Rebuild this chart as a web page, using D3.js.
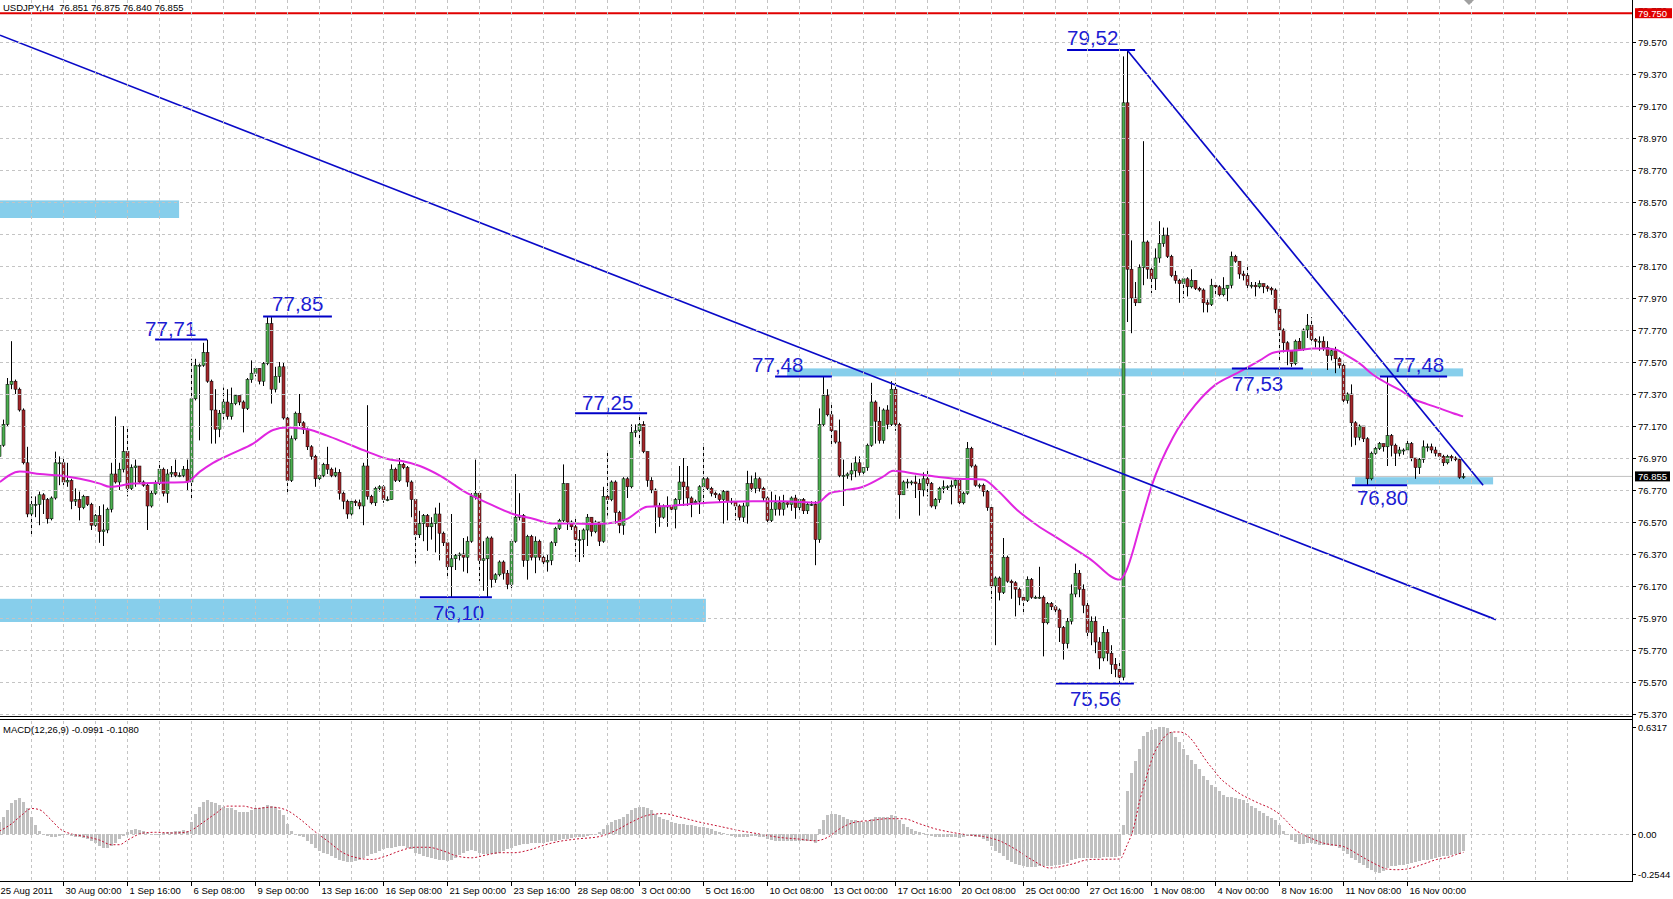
<!DOCTYPE html>
<html><head><meta charset="utf-8">
<script src="https://cdn.jsdelivr.net/npm/d3@7"></script>
<style>
html,body{margin:0;padding:0;background:#fff;overflow:hidden;}
svg{display:block;}
text{font-family:"Liberation Sans",Arial,sans-serif;}
</style></head><body>
<svg id="c" width="1673" height="899"></svg>
<script>
// ---------------- DATA ----------------
const symbolTitle = "USDJPY,H4  76.851 76.875 76.840 76.855";
const macdTitle = "MACD(12,26,9) -0.0991 -0.1080";
const firstOpen = 76.98;
const closes = [
77.05,77.18,77.43,77.45,77.40,77.27,76.94,76.62,76.68,76.68,
76.74,76.71,76.59,76.72,76.94,76.94,76.82,76.83,76.70,76.71,
76.66,76.73,76.68,76.55,76.61,76.51,76.52,76.65,76.87,76.82,
76.90,77.01,76.78,76.91,76.92,76.82,76.80,76.67,76.75,76.81,
76.90,76.75,76.87,76.88,76.86,76.86,76.90,76.82,77.34,77.55,
77.55,77.63,77.45,77.27,77.15,77.25,77.32,77.23,77.31,77.36,
77.32,77.28,77.46,77.50,77.53,77.45,77.56,77.81,77.40,77.48,
77.54,77.22,76.83,77.09,77.25,77.19,77.15,77.04,76.98,76.84,
76.86,76.93,76.90,76.86,76.88,76.75,76.70,76.62,76.70,76.69,
76.67,76.92,76.73,76.69,76.78,76.79,76.71,76.71,76.90,76.83,
76.93,76.91,76.82,76.71,76.49,76.56,76.61,76.54,76.56,76.62,
76.50,76.44,76.29,76.34,76.36,76.37,76.35,76.45,76.73,76.75,
76.33,76.34,76.47,76.21,76.24,76.32,76.25,76.18,76.45,76.60,
76.61,76.33,76.48,76.35,76.45,76.35,76.32,76.33,76.44,76.53,
76.58,76.81,76.57,76.54,76.46,76.46,76.52,76.60,76.51,76.57,
76.45,76.73,76.71,76.82,76.63,76.55,76.84,76.79,77.13,77.14,
77.18,77.01,76.83,76.77,76.67,76.60,76.67,76.67,76.65,76.71,
76.82,76.79,76.72,76.69,76.70,76.79,76.84,76.78,76.75,76.74,
76.71,76.76,76.70,76.70,76.67,76.60,76.67,76.81,76.78,76.84,
76.78,76.72,76.58,76.65,76.69,76.65,76.69,76.68,76.72,76.66,
76.71,76.64,76.68,76.68,76.46,77.18,77.36,77.24,77.14,77.07,
76.86,76.86,76.87,76.89,76.94,76.88,76.91,77.05,77.32,77.20,
77.08,77.27,77.18,77.40,77.18,76.74,76.82,76.82,76.82,76.81,
76.77,76.84,76.81,76.67,76.71,76.78,76.79,76.79,76.80,76.83,
76.69,76.75,77.03,76.92,76.80,76.80,76.76,76.66,76.17,76.22,
76.13,76.35,76.20,76.19,76.15,76.10,76.08,76.21,76.10,76.10,
76.10,75.94,76.06,76.04,76.02,75.91,75.81,75.95,76.12,76.25,
76.15,76.05,75.88,75.95,75.82,75.72,75.88,75.75,75.68,75.65,
75.60,79.19,78.15,77.97,77.94,78.16,78.32,78.15,78.09,78.22,
78.31,78.36,78.23,78.11,78.08,78.06,78.09,78.04,78.08,78.03,
78.02,77.94,77.93,78.05,78.04,77.99,78.03,78.05,78.23,78.20,
78.12,78.11,78.05,78.05,78.04,78.06,78.04,78.03,78.02,77.90,
77.77,77.69,77.64,77.56,77.70,77.65,77.77,77.80,77.71,77.70,
77.70,77.66,77.61,77.64,77.59,77.55,77.33,77.37,77.19,77.10,
77.17,77.09,76.84,77.00,77.03,77.06,77.04,77.11,77.05,77.00,
77.02,77.02,77.06,76.97,76.91,76.96,77.04,77.04,77.02,77.00,
76.98,76.94,76.98,76.97,76.96,76.85,76.855];
const highs = [
77.08,77.21,77.47,77.70,77.46,77.41,77.28,77.04,76.73,76.73,
76.76,76.75,76.72,76.73,77.01,76.98,76.97,76.94,76.84,76.78,
76.76,76.74,76.73,76.69,76.62,76.67,76.68,76.66,76.94,77.23,
76.94,77.17,77.17,76.93,76.96,76.92,76.83,76.81,76.77,76.83,
76.95,76.91,76.90,76.92,76.96,76.88,76.92,76.96,77.59,77.59,
77.56,77.69,77.71,77.46,77.40,77.27,77.41,77.40,77.41,77.37,
77.36,77.33,77.47,77.58,77.54,77.53,77.57,77.85,77.85,77.54,
77.57,77.57,77.23,77.11,77.26,77.37,77.20,77.16,77.05,76.99,
76.87,76.94,77.04,76.91,76.91,76.90,76.76,76.71,76.71,76.71,
76.71,76.94,77.30,76.74,76.79,76.80,76.80,76.73,76.93,76.91,
76.97,76.94,76.92,76.83,76.72,76.64,76.62,76.62,76.60,76.66,
76.69,76.51,76.46,76.62,76.37,76.38,76.47,76.48,76.75,76.96,
76.76,76.45,76.48,76.48,76.25,76.33,76.33,76.27,76.46,76.87,
76.75,76.62,76.49,76.49,76.48,76.46,76.36,76.37,76.45,76.54,
76.59,76.93,76.81,76.58,76.60,76.52,76.53,76.62,76.60,76.58,
76.56,76.79,77.01,76.83,76.83,76.64,76.85,76.85,77.18,77.18,
77.25,77.20,77.01,76.85,76.78,76.69,76.68,76.73,76.68,76.72,
76.92,76.97,76.92,76.73,76.71,76.80,77.06,76.85,76.79,76.76,
76.75,76.77,76.77,76.72,76.72,76.68,76.69,76.89,76.86,76.88,
76.85,76.79,76.73,76.76,76.74,76.73,76.74,76.70,76.73,76.74,
76.72,76.72,76.69,76.70,76.70,77.28,77.48,77.40,77.31,77.14,
77.21,76.96,76.88,76.94,76.98,76.98,76.91,77.06,77.44,77.33,
77.29,77.28,77.30,77.45,77.44,77.19,76.83,76.84,76.83,76.86,
76.84,76.88,76.89,76.82,76.72,76.79,76.83,76.80,76.83,76.84,
76.84,76.76,77.07,77.04,76.93,76.81,76.81,76.77,76.67,76.23,
76.23,76.47,76.36,76.21,76.20,76.16,76.12,76.23,76.22,76.11,
76.29,76.11,76.07,76.07,76.05,76.03,75.92,75.97,76.18,76.31,
76.27,76.18,76.07,75.98,75.98,75.85,75.92,75.90,75.80,75.72,
75.70,79.48,79.52,78.33,78.07,78.18,78.95,78.33,78.16,78.28,
78.45,78.41,78.41,78.24,78.14,78.09,78.10,78.10,78.15,78.08,
78.04,78.03,77.96,78.09,78.06,78.05,78.10,78.05,78.26,78.24,
78.18,78.14,78.18,78.07,78.07,78.08,78.05,78.05,78.04,78.03,
77.92,77.78,77.70,77.63,77.71,77.72,77.78,77.87,77.85,77.72,
77.73,77.73,77.70,77.655,77.665,77.60,77.56,77.38,77.43,77.20,
77.18,77.17,77.10,77.01,77.05,77.07,77.06,77.48,77.12,77.06,
77.04,77.03,77.08,77.07,76.97,76.97,77.08,77.06,77.06,77.04,
77.01,76.99,76.99,76.99,76.98,76.97,76.875];
const lows = [
76.96,77.04,77.17,77.40,77.37,77.26,76.93,76.60,76.48,76.60,
76.55,76.62,76.56,76.58,76.71,76.80,76.80,76.79,76.65,76.67,
76.58,76.65,76.67,76.52,76.54,76.44,76.42,76.50,76.63,76.81,
76.77,76.88,76.73,76.77,76.79,76.81,76.79,76.52,76.66,76.74,
76.80,76.73,76.69,76.85,76.85,76.85,76.85,76.77,76.71,77.33,
77.08,77.54,77.44,77.06,77.06,77.10,77.21,77.21,77.21,77.30,
77.30,77.13,77.27,77.44,77.48,77.43,77.42,77.55,77.31,77.38,
77.44,77.21,76.74,76.82,77.08,77.17,77.12,77.02,76.96,76.79,
76.83,76.85,76.87,76.85,76.85,76.71,76.65,76.59,76.61,76.67,
76.65,76.55,76.71,76.68,76.67,76.76,76.69,76.70,76.71,76.82,
76.82,76.90,76.79,76.60,76.31,76.47,76.45,76.39,76.46,76.38,
76.33,76.42,76.23,76.10,76.27,76.33,76.26,76.25,76.44,76.71,
76.20,76.14,76.10,76.16,76.19,76.23,76.21,76.15,76.15,76.44,
76.58,76.29,76.21,76.33,76.25,76.33,76.30,76.26,76.30,76.42,
76.52,76.57,76.52,76.52,76.35,76.32,76.35,76.42,76.48,76.50,
76.42,76.44,76.61,76.70,76.56,76.50,76.49,76.72,76.78,77.10,
77.05,77.00,76.79,76.75,76.50,76.54,76.59,76.54,76.63,76.53,
76.67,76.67,76.67,76.60,76.68,76.62,76.69,76.77,76.73,76.72,
76.69,76.56,76.58,76.68,76.58,76.58,76.57,76.56,76.76,76.75,
76.76,76.70,76.56,76.57,76.61,76.61,76.61,76.66,76.64,76.59,
76.64,76.62,76.62,76.67,76.30,76.44,77.17,77.23,77.04,77.06,
76.85,76.67,76.84,76.83,76.85,76.86,76.86,76.89,77.04,77.06,
77.06,77.06,77.15,77.17,77.14,76.59,76.74,76.78,76.80,76.72,
76.61,76.73,76.73,76.66,76.65,76.69,76.75,76.77,76.68,76.78,
76.68,76.68,76.74,76.91,76.79,76.78,76.73,76.64,76.09,75.80,
76.08,76.12,76.19,76.09,75.98,76.05,76.00,76.07,76.09,76.09,
76.09,75.73,75.93,76.02,76.00,75.82,75.71,75.78,75.93,76.10,
76.10,76.00,75.85,75.80,75.75,75.65,75.70,75.70,75.62,75.60,
75.56,75.58,77.82,77.75,77.92,77.94,78.05,78.09,78.00,78.02,
78.19,78.29,78.22,78.10,78.06,77.94,77.97,77.98,78.03,78.02,
78.01,77.88,77.88,77.92,77.98,77.98,77.98,77.95,78.03,78.19,
78.09,78.08,78.03,78.03,77.98,78.03,78.00,78.01,77.99,77.875,
77.58,77.63,77.55,77.54,77.55,77.64,77.64,77.72,77.70,77.66,
77.64,77.64,77.52,77.58,77.50,77.53,77.31,77.31,77.04,77.05,
77.08,77.07,76.80,76.83,76.99,77.02,77.01,76.92,76.98,76.92,
76.98,76.99,77.00,76.95,76.84,76.87,76.94,77.01,77.00,76.98,
76.96,76.92,76.93,76.95,76.95,76.84,76.84];

// moving average (pink), read at sample bars
const maBars = [0.1,5.1,10.1,15.1,20.1,25.1,27.6,33.4,40.1,46.9,50.1,53.4,58.4,63.4,68.4,71.9,76.9,81.9,86.9,91.9,97.6,100.9,105.1,110.1,116.9,121.9,128.4,133.4,138.4,143.4,148.4,151.9,156.9,161.9,166.9,171.9,176.9,181.9,188.4,195.9,204.4,207.6,210.9,215.9,220.9,223.4,229.4,234.4,239.4,245.9,249.4,254.4,259.4,265.1,272.6,280.1,281.4,285.4,288.1,293.4,298.9,304.1,309.4,315.1,318.4,321.9,325.1,328.4,331.9,334.4,336.9,340.1,343.4,346.9,350.1,353.4,356.9,360.1,363.4,365.9];
const maVals = [76.82,76.885,76.87,76.86,76.84,76.81,76.79,76.81,76.815,76.82,76.885,76.94,77.0,77.06,77.145,77.16,77.15,77.11,77.06,77.01,76.96,76.95,76.92,76.86,76.75,76.69,76.62,76.59,76.56,76.56,76.557,76.56,76.59,76.665,76.67,76.68,76.69,76.697,76.70,76.70,76.69,76.75,76.766,76.79,76.853,76.89,76.87,76.853,76.84,76.836,76.77,76.645,76.55,76.46,76.34,76.21,76.25,76.57,76.80,77.10,77.30,77.43,77.50,77.58,77.628,77.64,77.645,77.655,77.655,77.645,77.61,77.56,77.49,77.437,77.395,77.34,77.307,77.28,77.25,77.23];

// MACD main (histogram), one per bar
const macdHist = [
0.07,0.10,0.14,0.18,0.20,0.21,0.19,0.15,0.10,0.05,0.02,
0.00,-0.01,-0.02,-0.015,-0.01,-0.005,-0.005,-0.01,-0.015,-0.02,
-0.025,-0.03,-0.04,-0.055,-0.07,-0.08,-0.08,-0.07,-0.05,-0.03,
-0.01,0.01,0.025,0.03,0.025,0.015,0.005,0.0,-0.005,0.0,
0.005,0.01,0.01,0.015,0.02,0.025,0.015,
0.07,0.12,0.16,0.19,0.20,0.19,0.18,0.17,
0.16,0.155,0.15,0.14,0.13,0.13,0.13,0.14,0.15,0.155,0.16,0.17,0.165,0.16,0.14,
0.11,0.06,0.02,0.0,-0.01,-0.02,
-0.04,-0.06,-0.08,-0.10,-0.11,-0.12,-0.13,-0.14,-0.15,-0.16,-0.165,-0.165,
-0.16,-0.155,-0.14,-0.13,-0.12,-0.11,-0.10,-0.09,-0.085,-0.08,-0.075,-0.07,
-0.07,-0.08,-0.09,-0.11,-0.12,-0.13,-0.135,-0.14,-0.145,-0.15,-0.155,-0.16,-0.155,
-0.14,-0.125,-0.11,-0.10,-0.095,-0.10,
-0.11,-0.115,-0.12,-0.12,-0.115,-0.11,-0.10,-0.09,
-0.08,-0.07,-0.065,-0.06,-0.06,-0.055,-0.05,-0.05,-0.05,-0.045,-0.04,-0.04,-0.035,
-0.03,-0.03,-0.025,-0.02,-0.02,-0.015,-0.01,-0.005,0.0,
0.01,0.03,0.05,0.07,0.08,0.09,0.10,0.12,0.14,0.155,0.16,
0.16,0.15,0.14,0.12,0.10,0.09,0.08,0.07,0.065,0.06,
0.06,0.055,0.05,0.045,0.04,0.04,0.035,0.03,0.02,0.01,0.005,
-0.005,-0.01,-0.015,-0.02,-0.02,-0.015,-0.01,-0.01,-0.015,-0.02,-0.03,-0.035,-0.04,-0.04,-0.04,-0.04,-0.04,-0.04,-0.04,-0.04,-0.04,-0.04,-0.05,
0.03,0.08,0.11,0.12,0.12,0.11,0.10,0.09,0.085,0.08,0.075,
0.07,0.075,0.09,0.10,0.10,0.10,0.10,0.11,0.105,0.08,0.06,
0.04,0.03,0.02,0.01,0.005,0.0,-0.01,-0.015,-0.02,-0.02,-0.02,-0.02,-0.02,-0.025,
-0.02,-0.01,-0.01,-0.015,-0.02,-0.03,-0.04,-0.07,-0.10,
-0.11,-0.13,-0.15,-0.165,-0.175,-0.185,-0.19,-0.195,-0.195,-0.195,-0.19,-0.19,-0.19,
-0.19,-0.185,-0.18,-0.175,-0.17,-0.155,-0.145,-0.14,-0.14,-0.14,-0.14,-0.14,-0.14,-0.135,-0.135,-0.135,-0.135,-0.13,
0.055,0.25,0.36,0.43,0.50,0.575,0.60,0.614,0.62,0.63,0.6317,0.625,0.60,0.57,0.54,0.50,0.467,0.437,0.41,0.38,
0.34,0.316,0.29,0.276,0.255,0.23,0.218,0.218,0.21,0.206,0.198,0.182,0.167,0.153,0.137,0.124,0.108,0.094,0.08,0.055,
0.02,-0.004,-0.033,-0.049,-0.059,-0.059,-0.053,-0.053,-0.057,-0.063,-0.063,-0.067,-0.073,-0.073,-0.082,-0.10,-0.12,-0.14,-0.155,-0.17,
-0.184,-0.20,-0.214,-0.225,-0.229,-0.22,-0.20,-0.19,-0.19,-0.184,-0.18,-0.175,-0.17,-0.167,-0.16,-0.155,-0.15,-0.147,-0.14,-0.135,
-0.13,-0.127,-0.124,-0.12,-0.116,-0.099];

// MACD signal (red dotted), read at sample bars
const sigBars = [0,3,5.5,8,10,12.6,15.3,18,21.5,25,28,30,32,36,39,43,46.5,48,51,54,57,61,64,68,71.5,75,78.7,82.3,85.8,89.4,93,96.6,100,104,107,111,114.4,118,121.6,125,128.7,132.3,136,139.4,144,150,154,158,162,166,170,175,180,185,190,195,200,204,207,210,214,218,222,226,230,234,238,242,246,250,254,258,262.6,267.6,272.6,280.1,281.8,283.4,285.1,286.8,288.4,290.1,291.8,293.4,295.1,296.8,298.4,300.1,301.8,303.4,305.1,307.6,310.1,312.6,315.1,317.6,320.1,321.8,323.4,325.9,328.4,330.9,334.3,335.9,337.6,340.1,342.6,345.1,346.8,349.3,351.8,354.3,356.8,359.3,361.8,364.3,366];
const sigVals = [0.017,0.06,0.11,0.15,0.143,0.09,0.027,0,-0.015,-0.036,-0.063,-0.063,-0.036,0.006,0.01,0.006,0.01,0.023,0.07,0.12,0.164,0.164,0.15,0.158,0.143,0.09,0.017,-0.046,-0.109,-0.14,-0.15,-0.13,-0.10,-0.078,-0.078,-0.10,-0.13,-0.14,-0.124,-0.11,-0.11,-0.095,-0.067,-0.046,-0.03,-0.015,0.02,0.07,0.11,0.12,0.10,0.07,0.045,0.02,0.0,-0.02,-0.03,-0.04,-0.02,0.03,0.07,0.08,0.09,0.09,0.06,0.03,0.01,-0.005,-0.015,-0.04,-0.09,-0.15,-0.2,-0.18,-0.15,-0.147,-0.07,0.025,0.2,0.34,0.46,0.535,0.584,0.6,0.6,0.584,0.545,0.486,0.427,0.38,0.33,0.28,0.237,0.206,0.178,0.153,0.114,0.075,0.035,-0.004,-0.03,-0.053,-0.067,-0.073,-0.092,-0.127,-0.16,-0.19,-0.206,-0.21,-0.206,-0.19,-0.17,-0.15,-0.14,-0.12,-0.108];

const priceTicks = [79.57,79.37,79.17,78.97,78.77,78.57,78.37,78.17,77.97,77.77,77.57,77.37,77.17,76.97,76.77,76.57,76.37,76.17,75.97,75.77,75.57,75.37];
const macdTicks = [0.6317,0.00,-0.2544];
const macdTickText = ["0.6317","0.00","-0.2544"];
const dateBars = [16,32,48,64,80,96,112,128,144,160,176,192,208,224,240,256,272,288,304,320,336,352];
const dateText = ["30 Aug 00:00","1 Sep 16:00","6 Sep 08:00","9 Sep 00:00","13 Sep 16:00","16 Sep 08:00","21 Sep 00:00","23 Sep 16:00","28 Sep 08:00","3 Oct 00:00","5 Oct 16:00","10 Oct 08:00","13 Oct 00:00","17 Oct 16:00","20 Oct 08:00","25 Oct 00:00","27 Oct 16:00","1 Nov 08:00","4 Nov 00:00","8 Nov 16:00","11 Nov 08:00","16 Nov 00:00"];
const firstDateText = "25 Aug 2011";

// annotations (chart objects)
const levelText  = ["77,71","77,85","77,25","76,10","77,48","79,52","75,56","77,53","77,48","76,80"];
const levelPrice = [77.71,77.855,77.25,76.10,77.48,79.52,75.56,77.53,77.48,76.80];
const levelFrom  = [38.9,65.9,143.9,105.1,193.9,266.9,264.1,308.1,345.1,338.1];
const levelTo    = [51.9,83.1,161.9,123.1,208.1,283.9,283.6,325.9,361.9,351.9];
const bandFrom   = [0.1,0.1,196.9,338.9];
const bandTo     = [44.9,176.6,365.9,373.4];
const bandTop    = [78.58,76.09,77.53,76.85];
const bandBottom = [78.47,75.945,77.48,76.805];
const trendLines = [[[0.125,79.6125],[374.1,75.96]],[[281.9,79.52],[370.9,76.80]]];
const alertLevel = 79.75;
const lastPrice = 76.855;

// layout of level label text (px offsets from the level line start / y)
const levelLabelDx = [-10,9,7,13,-23,0,14,0,13,5];
const levelLabelDy = [-4,-5,-3,23,-4.5,-5,22,22.5,-4.5,20];

// ---------------- DRAW ----------------
const svg = d3.select('#c');
const PR = 1632, MAIN_B = 716, MACD_T = 720, MACD_B = 881;
const x  = d3.scaleLinear().domain([0,366]).range([-0.5,1463.5]);
const yP = d3.scaleLinear().domain([75.37,79.57]).range([714,42]);
const yM = d3.scaleLinear().domain([0,0.6317]).range([834,726.6]);

svg.append('rect').attr('width',1673).attr('height',899).attr('fill','#fff');
const defs = svg.append('defs');
defs.append('clipPath').attr('id','cm').append('rect').attr('x',0).attr('y',0).attr('width',PR).attr('height',MAIN_B);
defs.append('clipPath').attr('id','cd').append('rect').attr('x',0).attr('y',MACD_T).attr('width',PR).attr('height',MACD_B-MACD_T);

const gMain = svg.append('g').attr('clip-path','url(#cm)');
const gMacd = svg.append('g').attr('clip-path','url(#cd)');

// grid
const grid = svg.append('g').attr('stroke','#c4c4c4').attr('stroke-dasharray','3,3').attr('shape-rendering','crispEdges');
d3.range(8,400,8).filter(b=>x(b)<PR-5).forEach(b=>{
  grid.append('line').attr('x1',x(b)).attr('x2',x(b)).attr('y1',0).attr('y2',MAIN_B-1);
  grid.append('line').attr('x1',x(b)).attr('x2',x(b)).attr('y1',MACD_T+1).attr('y2',MACD_B);
});
priceTicks.forEach(p=>{
  const y = Math.round(yP(p))+0.5;
  grid.append('line').attr('x1',0).attr('x2',PR).attr('y1',y).attr('y2',y);
});
grid.append('line').attr('x1',0).attr('x2',PR).attr('y1',Math.round(yM(0))+0.5).attr('y2',Math.round(yM(0))+0.5);

// bands
bandFrom.forEach((b,i)=>{
  gMain.append('rect').attr('x',x(b)).attr('width',x(bandTo[i])-x(b))
    .attr('y',yP(bandTop[i])).attr('height',yP(bandBottom[i])-yP(bandTop[i]))
    .attr('fill','#87ceeb');
});

// current price line & alert line
gMain.append('line').attr('x1',0).attr('x2',PR).attr('y1',yP(lastPrice)).attr('y2',yP(lastPrice))
  .attr('stroke','#c0c0c0').attr('stroke-width',1);
gMain.append('line').attr('x1',0).attr('x2',PR).attr('y1',yP(alertLevel)).attr('y2',yP(alertLevel))
  .attr('stroke','#e00000').attr('stroke-width',2);

// candles
const candles = closes.map((c,i)=>{
  const o = i===0 ? firstOpen : closes[i-1];
  return {i, o, c, h: Math.max(highs[i],o,c), l: Math.min(lows[i],o,c)};
});
const gC = gMain.append('g');
gC.selectAll('line.w').data(candles).join('line')
  .attr('x1',d=>x(d.i)).attr('x2',d=>x(d.i))
  .attr('y1',d=>yP(d.h)).attr('y2',d=>yP(d.l))
  .attr('stroke','#000').attr('stroke-width',1);
gC.selectAll('rect.b').data(candles).join('rect')
  .attr('x',d=>x(d.i)-1.5).attr('width',3)
  .attr('y',d=>yP(Math.max(d.o,d.c)))
  .attr('height',d=>Math.max(1,Math.abs(yP(d.o)-yP(d.c))))
  .attr('fill',d=>d.c>=d.o?'#4caf50':'#a3262a')
  .attr('stroke','#000').attr('stroke-width',0.5);

// moving average
const maPts = maBars.map((b,i)=>[b,maVals[i]]);
gMain.append('path').datum(maPts)
  .attr('d',d3.line().x(d=>x(d[0])).y(d=>yP(d[1])).curve(d3.curveMonotoneX))
  .attr('fill','none').attr('stroke','#e026e0').attr('stroke-width',2);

// trend lines
trendLines.forEach(t=>{
  gMain.append('line').attr('x1',x(t[0][0])).attr('y1',yP(t[0][1]))
    .attr('x2',x(t[1][0])).attr('y2',yP(t[1][1]))
    .attr('stroke','#0a0ac8').attr('stroke-width',1.7);
});

// levels
levelText.forEach((t,i)=>{
  const y = yP(levelPrice[i]);
  gMain.append('line').attr('x1',x(levelFrom[i])).attr('x2',x(levelTo[i]))
    .attr('y1',y).attr('y2',y).attr('stroke','#0000c8').attr('stroke-width',2);
  gMain.append('text').attr('x',x(levelFrom[i])+levelLabelDx[i]).attr('y',y+levelLabelDy[i])
    .attr('font-size',20.5).attr('fill','#1c1cd2').text(t);
});

// MACD histogram
gMacd.selectAll('rect').data(macdHist).join('rect')
  .attr('x',(v,i)=>x(i)-1.5).attr('width',3)
  .attr('y',v=>yM(Math.max(v,0))).attr('height',v=>Math.max(0.5,Math.abs(yM(v)-yM(0))))
  .attr('fill','#c0c0c0').attr('shape-rendering','crispEdges');
const sigPts = sigBars.map((b,i)=>[b,sigVals[i]]);
gMacd.append('path').datum(sigPts)
  .attr('d',d3.line().x(d=>x(d[0])).y(d=>yM(d[1])).curve(d3.curveMonotoneX))
  .attr('fill','none').attr('stroke','#c41030').attr('stroke-width',1).attr('stroke-dasharray','2,2');

// frame
const fr = svg.append('g').attr('stroke','#000').attr('stroke-width',1).attr('shape-rendering','crispEdges');
fr.append('line').attr('x1',PR+0.5).attr('x2',PR+0.5).attr('y1',0).attr('y2',MACD_B+0.5);
fr.append('line').attr('x1',0).attr('x2',PR).attr('y1',MAIN_B+0.5).attr('y2',MAIN_B+0.5);
fr.append('line').attr('x1',0).attr('x2',PR).attr('y1',MACD_T-1+0.5).attr('y2',MACD_T-1+0.5);
fr.append('line').attr('x1',0).attr('x2',PR+1).attr('y1',MACD_B+0.5).attr('y2',MACD_B+0.5);

// right price axis
const ax = svg.append('g').attr('font-size',9.5).attr('fill','#000');
ax.append('text').attr('x',1638).attr('y',yP(79.77)+3.5).text('79.770');
priceTicks.forEach(p=>{
  const y = yP(p);
  fr.append('line').attr('x1',PR).attr('x2',PR+4).attr('y1',Math.round(y)+0.5).attr('y2',Math.round(y)+0.5);
  ax.append('text').attr('x',1638).attr('y',y+3.5).text(p.toFixed(3));
});
macdTicks.forEach((v,i)=>{
  const y = i===0 ? 727 : (i===2 ? 874 : yM(v));
  fr.append('line').attr('x1',PR).attr('x2',PR+4).attr('y1',Math.round(y)+0.5).attr('y2',Math.round(y)+0.5);
  ax.append('text').attr('x',1638).attr('y',y+3.5).text(macdTickText[i]);
});
// alert & price boxes
svg.append('rect').attr('x',1635).attr('y',yP(alertLevel)-5).attr('width',37).attr('height',10).attr('fill','#e00000');
svg.append('text').attr('x',1638).attr('y',yP(alertLevel)+3.5).attr('font-size',9.5).attr('fill','#fff').text(alertLevel.toFixed(3));
svg.append('rect').attr('x',1635).attr('y',yP(lastPrice)-5).attr('width',35).attr('height',10).attr('fill','#000');
svg.append('text').attr('x',1638).attr('y',yP(lastPrice)+3.5).attr('font-size',9.5).attr('fill','#fff').text(lastPrice.toFixed(3));

// date axis
const dx = svg.append('g').attr('font-size',9.5).attr('fill','#000');
dx.append('text').attr('x',0.5).attr('y',894).text(firstDateText);
dateBars.forEach((b,i)=>{
  fr.append('line').attr('x1',x(b)).attr('x2',x(b)).attr('y1',MACD_B).attr('y2',MACD_B+5);
  dx.append('text').attr('x',x(b)+2).attr('y',894).text(dateText[i]);
});

// titles
svg.append('text').attr('x',3).attr('y',10.5).attr('font-size',9.5).style('white-space','pre').text(symbolTitle);
svg.append('text').attr('x',3).attr('y',733).attr('font-size',9.5).style('white-space','pre').text(macdTitle);

// chart shift marker
svg.append('path').attr('d','M1464,0 L1474,0 L1469,5 Z').attr('fill','#a0a0a0');
</script>
</body></html>
